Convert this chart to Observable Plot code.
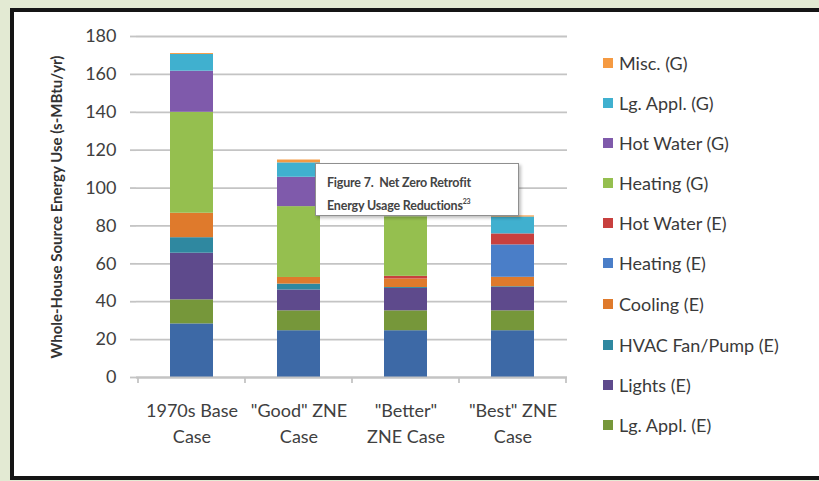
<!DOCTYPE html>
<html>
<head>
<meta charset="utf-8">
<script src="https://cdn.jsdelivr.net/npm/d3@7"></script>
<script src="https://cdn.jsdelivr.net/npm/@observablehq/plot@0.6"></script>
<style>
  html, body { margin: 0; padding: 0; overflow: hidden; }
  body { width: 819px; height: 481px; position: relative; background: #e3ead3; font-family: Lato, "Open Sans", sans-serif; }
  #frame { position: absolute; left: 10px; top: 8px; width: 805px; height: 464px; border-top: 4px solid #151515; border-left: 4px solid #151515; border-bottom: 4px solid #151515; background: #ffffff; box-sizing: content-box; }
  #chart { position: absolute; left: 0; top: 0; width: 819px; height: 481px; }
  #legend { position: absolute; left: 603px; top: 0; font-size: 18px; color: #3a3a3a; }
  .li { position: absolute; left: 0; white-space: nowrap; display: flex; align-items: center; height: 22px; transform: translateY(-11px); }
  .sw { width: 10px; height: 10px; margin-right: 6px; flex: none; }
  #note { position: absolute; left: 315px; top: 163px; width: 204px; height: 53px; background: #fff; border: 1.5px solid #8f8f8f; box-shadow: 2px 2px 3px rgba(0,0,0,0.25); font-weight: bold; font-size: 12.5px; color: #444; box-sizing: border-box; padding: 9px 0 0 11px; line-height: 19px; letter-spacing: -0.2px; }
  #note sup { font-size: 7px; vertical-align: 6px; }
</style>
</head>
<body>
<div id="frame"></div>
<div id="chart"></div>
<div id="legend"></div>
<div id="note">Figure 7.&nbsp; Net Zero Retrofit<br>Energy Usage Reductions<sup>23</sup></div>
<script>
// Categories (x) and their two-line tick labels
const categories = ["1970s Base Case", "\"Good\" ZNE Case", "\"Better\" ZNE Case", "\"Best\" ZNE Case"];
const tickLabels = ["1970s Base\nCase", "\"Good\" ZNE\nCase", "\"Better\"\nZNE Case", "\"Best\" ZNE\nCase"];

// Series, bottom to top of the stack
const series = ["Misc. (E)", "Lg. Appl. (E)", "Lights (E)", "HVAC Fan/Pump (E)", "Cooling (E)", "Heating (E)", "Hot Water (E)", "Heating (G)", "Hot Water (G)", "Lg. Appl. (G)", "Misc. (G)"];
const colors = ["#3d69a6", "#76973a", "#5e4a8c", "#2f88a0", "#df7a2c", "#4a7ec8", "#c8403e", "#95bf4f", "#7f5aab", "#40b0cf", "#f59a42"];
// Legend shows these (top to bottom), as in the reference
const legendSeries = ["Misc. (G)", "Lg. Appl. (G)", "Hot Water (G)", "Heating (G)", "Hot Water (E)", "Heating (E)", "Cooling (E)", "HVAC Fan/Pump (E)", "Lights (E)", "Lg. Appl. (E)"];

// Values in s-MBtu/yr, one array per series, in category order
const miscE      = [28.3, 24.7, 24.7, 24.7];
const lgApplE    = [12.7, 10.5, 10.5, 10.5];
const lightsE    = [24.6, 11.0, 11.8, 12.3];
const hvacE      = [8.2, 3.1, 0.5, 0.4];
const coolingE   = [12.9, 3.5, 4.5, 5.0];
const heatingE   = [0, 0, 0, 17.1];
const hotWaterE  = [0, 0, 1.4, 5.8];
const heatingG   = [53.3, 37.4, 31.4, 0];
const hotWaterG  = [21.7, 15.5, 0, 0];
const lgApplG    = [8.8, 7.6, 0, 8.9];
const miscG      = [0.5, 1.5, 0, 0.6];
const values = [miscE, lgApplE, lightsE, hvacE, coolingE, heatingE, hotWaterE, heatingG, hotWaterG, lgApplG, miscG];

const yTicks = [0, 20, 40, 60, 80, 100, 120, 140, 160, 180];
const yLabel = "Whole-House Source Energy Use (s-MBtu/yr)";

const data = [];
series.forEach((s, i) => categories.forEach((c, j) => data.push({series: s, cat: c, value: values[i][j]})));

const gray = "#c4c4c4";

function edgeTicks(index, scales, values, dims) {
  const x = scales.x;
  const bw = typeof x.bandwidth === "function" ? x.bandwidth() : 0;
  const step = typeof x.step === "function" ? x.step() : (x(categories[1]) - x(categories[0]));
  const g = d3.create("svg:g").attr("stroke", gray).attr("stroke-width", 1.8);
  const y0 = dims.height - dims.marginBottom;
  const edges = categories.map(c => x(c) + bw / 2 - step / 2);
  edges.push(x(categories[categories.length - 1]) + bw / 2 + step / 2);
  edges.forEach(e => g.append("line").attr("x1", e).attr("x2", e).attr("y1", y0).attr("y2", y0 + 6));
  return g.node();
}

const chart = Plot.plot({
  width: 819,
  height: 481,
  marginLeft: 136,
  marginRight: 252,
  marginTop: 36,
  marginBottom: 104,
  style: {background: "transparent", fontFamily: "Lato, 'Open Sans', sans-serif", color: "#404040"},
  x: {domain: categories, paddingInner: 0.6, paddingOuter: 0.3},
  y: {domain: [0, 180]},
  color: {domain: series, range: colors},
  marks: [
    Plot.gridY(yTicks, {stroke: gray, strokeOpacity: 1, strokeWidth: 1.8}),
    Plot.barY(data, {x: "cat", y: "value", fill: "series", order: null}),
    Plot.ruleX([0], {frameAnchor: "left", stroke: gray, strokeWidth: 1.8}),
    Plot.ruleY([0], {stroke: gray, strokeWidth: 1.8}),
    Plot.axisY({ticks: yTicks, tickSize: 6, tickPadding: 14, fontSize: 18, stroke: gray, strokeWidth: 1.8, label: null, tickFormat: d => String(d)}),
    Plot.axisX({tickSize: 0, tickPadding: 21, fontSize: 18, lineHeight: 1.45, label: null, tickFormat: d => tickLabels[categories.indexOf(d)]}),
    edgeTicks,
    Plot.text([yLabel], {frameAnchor: "left", dx: -79, rotate: -90, textAnchor: "middle", fontSize: 15, fontWeight: "bold", fill: "#333"})
  ]
});
document.getElementById("chart").appendChild(chart);

// Legend
const legend = document.getElementById("legend");
const legendTops = [63, 103, 143, 183, 223, 263, 304, 345, 385, 425];
legendSeries.forEach((s, i) => {
  const d = document.createElement("div");
  d.className = "li";
  d.style.top = legendTops[i] + "px";
  const sw = document.createElement("span");
  sw.className = "sw";
  sw.style.background = colors[series.indexOf(s)];
  d.appendChild(sw);
  d.appendChild(document.createTextNode(s));
  legend.appendChild(d);
});
</script>
</body>
</html>
